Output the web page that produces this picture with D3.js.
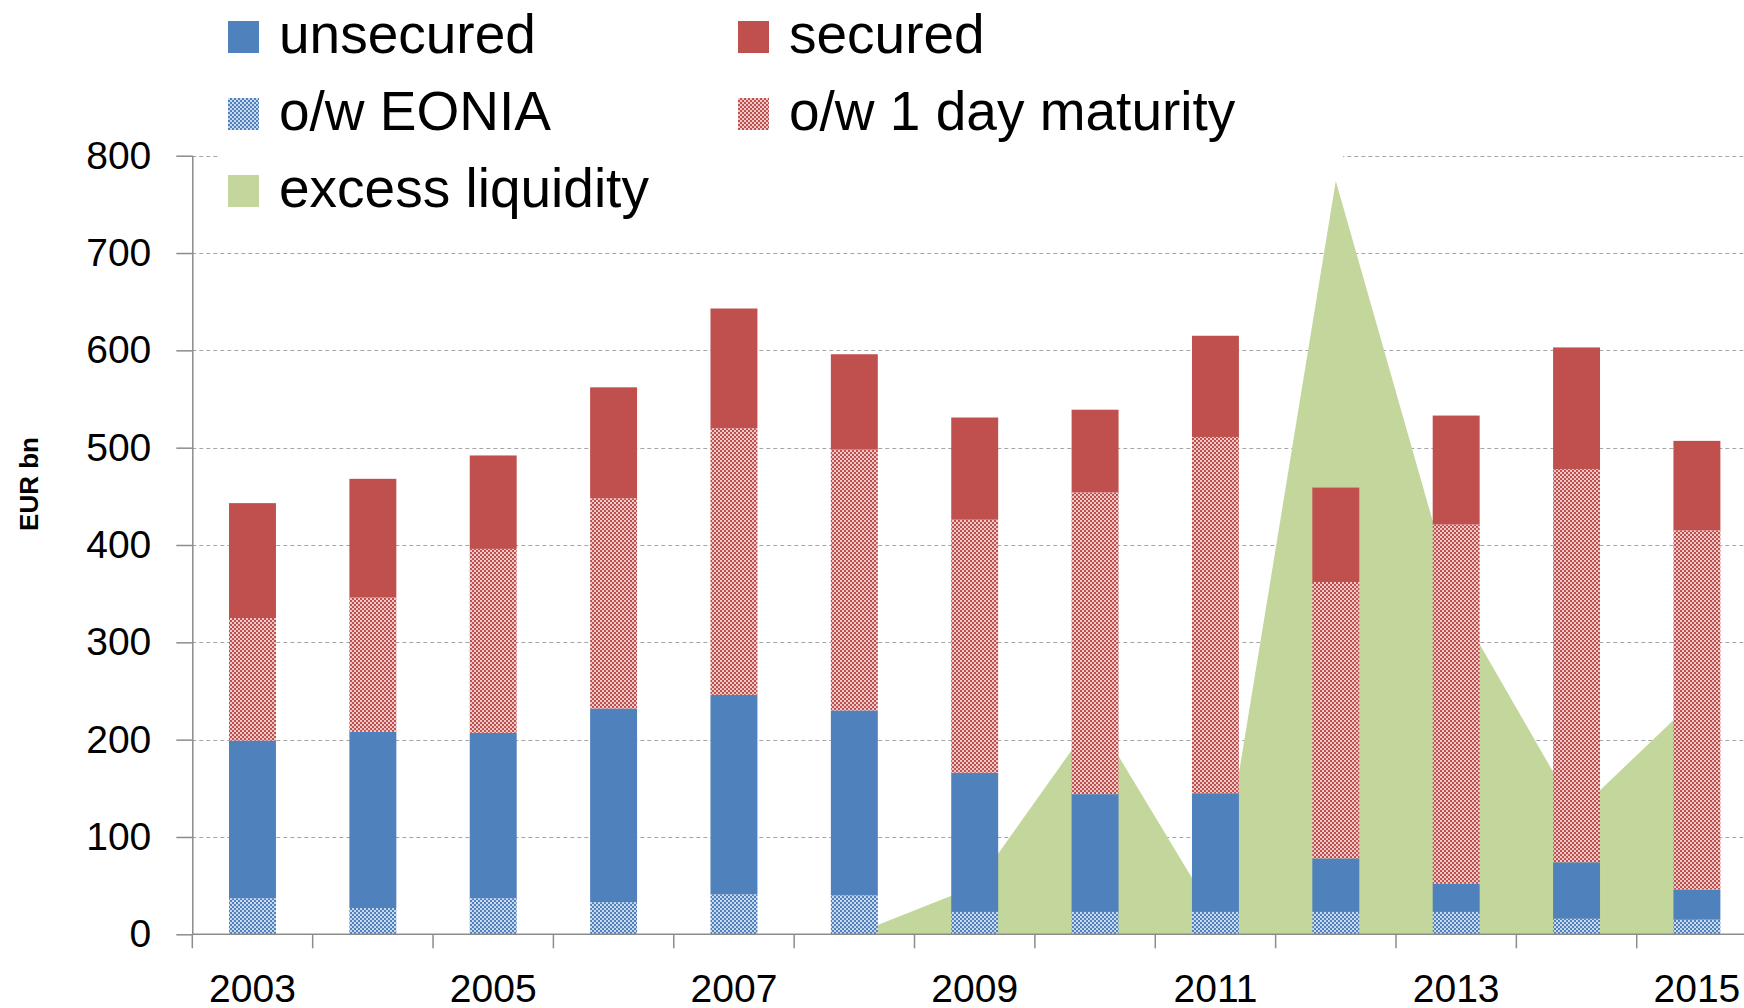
<!DOCTYPE html>
<html>
<head>
<meta charset="utf-8">
<script src="https://cdn.jsdelivr.net/npm/d3@7"></script>
<style>
  html, body { margin: 0; padding: 0; background: #fff; overflow: hidden; }
  svg { display: block; }
  text { font-family: "Liberation Sans", Arial, sans-serif; fill: #000; }
</style>
</head>
<body>
<svg id="chart" width="1744" height="1008"></svg>
<script>
// ---- data (EUR bn) ----
const years = [2003, 2004, 2005, 2006, 2007, 2008, 2009, 2010, 2011, 2012, 2013, 2014, 2015];
const unsecured = [199, 208, 207, 232, 246, 230, 166, 144, 145, 78, 52, 74, 46];      // total unsecured
const eonia = [37, 27, 37, 33, 41, 40, 23, 23, 23, 23, 23, 16, 15];                  // o/w EONIA
const secured = [244, 260, 285, 330, 397, 366, 365, 395, 470, 381, 481, 529, 461];   // total secured
const oneDay = [126, 138, 189, 216, 274, 268, 260, 310, 366, 284, 369, 404, 369];    // o/w 1 day maturity
const excessLiquidity = [0, 0, 0, 0, 0, 0, 49, 223, 18, 774, 340, 125, 243];
const yTicks = [0, 100, 200, 300, 400, 500, 600, 700, 800];
const xLabelYears = [2003, 2005, 2007, 2009, 2011, 2013, 2015];
const legendItems = [
  { label: "unsecured", key: "unsecOther" },
  { label: "secured", key: "securedOther" },
  { label: "o/w EONIA", key: "eonia" },
  { label: "o/w 1 day maturity", key: "oneDay" },
  { label: "excess liquidity", key: "excess" }
];

// ---- styling ----
const BLUE = "#4F81BD", RED = "#C0504D", GREEN = "#C3D69B";
const AXIS = "#8C8C8C", GRID = "#A6A6A6";

const svg = d3.select("#chart");
svg.append("rect").attr("width", 1744).attr("height", 1008).attr("fill", "#fff");

// patterns for "of which" segments
const defs = svg.append("defs");
function dotPattern(id, color) {
  const p = defs.append("pattern").attr("id", id).attr("patternUnits", "userSpaceOnUse")
    .attr("width", 4).attr("height", 4);
  p.append("rect").attr("width", 4).attr("height", 4).attr("fill", color);
  p.append("circle").attr("cx", 1).attr("cy", 1).attr("r", 0.95).attr("fill", "#fff");
  p.append("circle").attr("cx", 3).attr("cy", 3).attr("r", 0.95).attr("fill", "#fff");
}
dotPattern("patBlue", BLUE);
dotPattern("patRed", RED);

const fills = {
  eonia: "url(#patBlue)",
  unsecOther: BLUE,
  oneDay: "url(#patRed)",
  securedOther: RED,
  excess: GREEN
};

// ---- scales ----
const x = d3.scaleBand().domain(years).range([192.3, 1757.1]).paddingInner(0.61).paddingOuter(0.305);
const y = d3.scaleLinear().domain([0, 800]).range([934.3, 155.7]);
const xLeft = 192.3, xRight = 1744;

// ---- gridlines ----
const grid = svg.append("g");
grid.selectAll("line").data(yTicks.filter(d => d > 0)).join("line")
  .attr("x1", xLeft).attr("x2", xRight)
  .attr("y1", d => Math.round(y(d)) + 0.5).attr("y2", d => Math.round(y(d)) + 0.5)
  .attr("stroke", GRID).attr("stroke-width", 1).attr("stroke-dasharray", "4,3");

// legend background (covers the top gridline behind the legend)
svg.append("rect").attr("x", 218).attr("y", 0).attr("width", 1343 - 218).attr("height", 168).attr("fill", "#fff");

// ---- area: excess liquidity ----
const area = d3.area()
  .x((d, i) => x(years[i]) + x.bandwidth() / 2)
  .y0(y(0))
  .y1(d => y(d));
svg.append("path").datum(excessLiquidity).attr("d", area).attr("fill", GREEN);

// ---- stacked bars ----
const rows = years.map((yr, i) => ({
  year: yr,
  eonia: eonia[i],
  unsecOther: unsecured[i] - eonia[i],
  oneDay: oneDay[i],
  securedOther: secured[i] - oneDay[i]
}));
const keys = ["eonia", "unsecOther", "oneDay", "securedOther"];
const stack = d3.stack().keys(keys)(rows);
svg.append("g").selectAll("g").data(stack).join("g")
  .attr("fill", d => fills[d.key])
  .selectAll("rect").data(d => d).join("rect")
  .attr("x", d => x(d.data.year))
  .attr("width", x.bandwidth())
  .attr("y", d => y(d[1]))
  .attr("height", d => y(d[0]) - y(d[1]));

// ---- axes ----
const yAxisG = svg.append("g").attr("transform", `translate(${xLeft},0)`)
  .call(d3.axisLeft(y).tickValues(yTicks).tickSize(16).tickPadding(25).tickFormat(d3.format("d")));
yAxisG.select(".domain").attr("stroke", AXIS).attr("stroke-width", 1.5).attr("d", `M0.5,${y(800)}V${y(0)}`);
yAxisG.selectAll(".tick line").attr("stroke", AXIS).attr("stroke-width", 1.5);
yAxisG.selectAll(".tick text").attr("font-size", 39).attr("font-family", "Liberation Sans, Arial, sans-serif").attr("fill", "#000");

// x axis: ticks at category boundaries
const xAxisG = svg.append("g");
xAxisG.append("line").attr("x1", xLeft).attr("x2", xRight).attr("y1", y(0)).attr("y2", y(0))
  .attr("stroke", AXIS).attr("stroke-width", 1.5);
const boundaries = years.map(yr => x(yr) - x.step() * x.paddingInner() / 2);
xAxisG.selectAll("line.tk").data(boundaries).join("line").attr("class", "tk")
  .attr("x1", d => d).attr("x2", d => d).attr("y1", y(0)).attr("y2", y(0) + 14)
  .attr("stroke", AXIS).attr("stroke-width", 1.5);
xAxisG.selectAll("text").data(xLabelYears).join("text")
  .attr("x", d => x(d) + x.bandwidth() / 2).attr("y", 1002)
  .attr("text-anchor", "middle").attr("font-size", 39).text(d => d);

// y axis title
svg.append("text").attr("transform", "translate(38,484) rotate(-90)")
  .attr("text-anchor", "middle").attr("font-size", 26).attr("font-weight", "bold").text("EUR bn");

// ---- legend ----
const legendPos = [
  { x: 228, y: 53 }, { x: 738, y: 53 },
  { x: 228, y: 130 }, { x: 738, y: 130 },
  { x: 228, y: 207 }
];
const lg = svg.append("g").selectAll("g").data(legendItems).join("g")
  .attr("transform", (d, i) => `translate(${legendPos[i].x},${legendPos[i].y})`);
lg.append("rect").attr("x", 0).attr("y", -32).attr("width", 31).attr("height", 32)
  .attr("fill", d => fills[d.key]);
lg.append("text").attr("x", 51).attr("y", 0).attr("font-size", 55).text(d => d.label);
</script>
</body>
</html>
